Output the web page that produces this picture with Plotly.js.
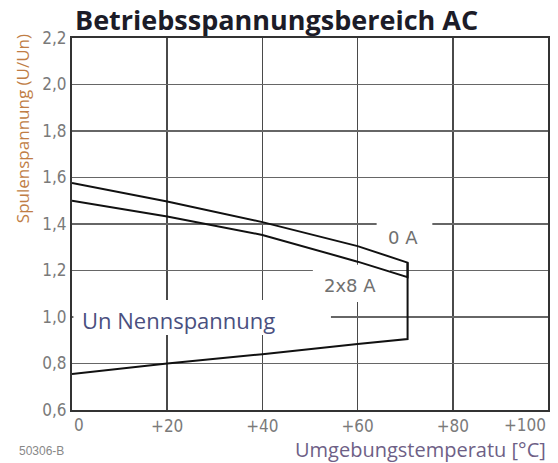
<!DOCTYPE html>
<html>
<head>
<meta charset="utf-8">
<script src="https://cdn.plot.ly/plotly-3.0.1.min.js"></script>
<style>html,body{margin:0;padding:0;background:#fff;}#chart{width:558px;height:463px;}</style>
</head>
<body>
<div id="chart"></div>
<script>
// Temperature (°C) points along the curves
const temps = [0, 20, 40, 60, 70.5];
// Upper limit at 0 A
const volt0A = [1.576, 1.497, 1.408, 1.305, 1.234];
// Upper limit at 2x8 A
const volt2x8A = [1.50, 1.432, 1.353, 1.238, 1.171];
// Lower limit (minimum operating voltage)
const voltMin = [0.755, 0.80, 0.84, 0.884, 0.905];

const xTickVals = [0, 20, 40, 60, 80, 100];
const xTickText = ['0', '+20', '+40', '+60', '+80', '+100'];
const yTickVals = [0.6, 0.8, 1.0, 1.2, 1.4, 1.6, 1.8, 2.0, 2.2];
const yTickText = ['0,6', '0,8', '1,0', '1,2', '1,4', '1,6', '1,8', '2,0', '2,2'];

// Outline: 0 A curve, vertical drop at max temperature, then lower limit back
const outlineX = temps.concat(temps.slice().reverse());
const outlineY = volt0A.concat(voltMin.slice().reverse());

const lineStyle = {color: '#111', width: 2};
const traces = [
  {x: outlineX, y: outlineY, mode: 'lines', line: lineStyle, hoverinfo: 'skip', showlegend: false},
  {x: temps.concat([temps[temps.length - 1]]), y: volt2x8A.concat([volt0A[volt0A.length - 1]]),
   mode: 'lines', line: lineStyle, hoverinfo: 'skip', showlegend: false}
];

// white masks that interrupt the grid behind the labels (drawn between grid and traces)
const masks = [
  [64, 75.7, 1.37, 1.43],
  [50.6, 66.8, 1.065, 1.225],
  [0.3, 54.4, 0.923, 1.073]
];

const tickFont = {family: '"DejaVu Sans Condensed", "DejaVu Sans", Arial, sans-serif', size: 17, color: '#7a7a7a'};
const last = xTickVals.length - 1;

// end labels of the x axis sit inward of their ticks, as in the reference
const edgeLabels = [
  {text: xTickText[0], xref: 'x', yref: 'paper', x: xTickVals[0], y: -0.04, xanchor: 'left',
   yanchor: 'middle', showarrow: false, font: tickFont},
  {text: xTickText[last], xref: 'x', yref: 'paper', x: xTickVals[last], y: -0.04, xanchor: 'right',
   yanchor: 'middle', showarrow: false, font: tickFont}
];

const layout = {
  width: 558, height: 463,
  margin: {l: 72, r: 10, t: 38, b: 53},
  paper_bgcolor: '#fff', plot_bgcolor: '#fff',
  showlegend: false,
  xaxis: {
    range: [0, 100], tickmode: 'array', tickvals: xTickVals,
    ticktext: xTickText.map((t, i) => (i === 0 || i === last) ? '' : t),
    showgrid: true, gridcolor: '#4a4a4a', gridwidth: 1.6,
    showline: true, linecolor: '#333', linewidth: 2, mirror: true,
    zeroline: false, ticks: '', tickfont: tickFont, fixedrange: true
  },
  yaxis: {
    range: [0.6, 2.2], tickmode: 'array', tickvals: yTickVals, ticktext: yTickText,
    showgrid: true, gridcolor: '#666', gridwidth: 1.6,
    showline: true, linecolor: '#333', linewidth: 2, mirror: true,
    zeroline: false, ticks: '', tickfont: tickFont, fixedrange: true
  },
  shapes: masks.map(m => ({type: 'rect', layer: 'between', xref: 'x', yref: 'y',
    x0: m[0], x1: m[1], y0: m[2], y1: m[3], fillcolor: '#fff', line: {width: 0}})),
  annotations: edgeLabels.concat([
    {text: '<b>Betriebsspannungsbereich AC</b>', xref: 'paper', yref: 'paper', x: 0.43, y: 1.0,
     xanchor: 'center', yanchor: 'bottom', yshift: -2, showarrow: false,
     font: {family: '"Open Sans", sans-serif', size: 27, color: '#1c1c28'}},
    {text: 'Spulenspannung (U/Un)', xref: 'paper', yref: 'paper', x: -0.105, y: 0.755,
     xanchor: 'center', yanchor: 'middle', textangle: -90, showarrow: false,
     font: {family: '"Open Sans", sans-serif', size: 17, color: '#c07d45'}},
    {text: 'Umgebungstemperatu [°C]', xref: 'paper', yref: 'paper', x: 1.0, y: -0.105,
     xanchor: 'right', yanchor: 'middle', showarrow: false,
     font: {family: '"Open Sans", sans-serif', size: 20, color: '#6e5f86'}},
    {text: '0 A', xref: 'x', yref: 'y', x: 69.5, y: 1.34, showarrow: false,
     font: {family: '"DejaVu Sans", sans-serif', size: 18, color: '#707070'}},
    {text: '2x8 A', xref: 'x', yref: 'y', x: 58.3, y: 1.135, showarrow: false,
     font: {family: '"DejaVu Sans", sans-serif', size: 18, color: '#707070'}},
    {text: 'Un Nennspannung', xref: 'x', yref: 'y', x: 1.6, y: 0.985, xanchor: 'left', showarrow: false,
     font: {family: '"Open Sans", sans-serif', size: 22, color: '#4a5080'}},
    {text: '50306-B', xref: 'paper', yref: 'paper', x: -0.115, y: -0.11, xanchor: 'left', yanchor: 'middle',
     showarrow: false, font: {family: 'Arial, sans-serif', size: 12, color: '#888'}}
  ])
};

Plotly.newPlot('chart', traces, layout, {displayModeBar: false, staticPlot: true});
</script>
</body>
</html>
